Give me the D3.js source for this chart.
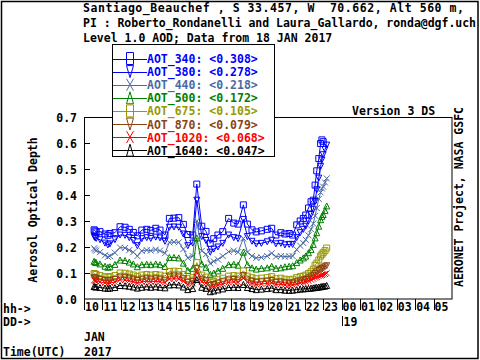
<!DOCTYPE html>
<html><head><meta charset="utf-8">
<script src="https://cdn.jsdelivr.net/npm/d3@7"></script>
<style>
body{margin:0;background:#fff}
text{font-family:"DejaVu Sans Mono",monospace;font-weight:bold;font-size:11.5px;white-space:pre}
</style>
</head><body><svg id="c" width="480" height="360"></svg>
<script>
// time of day, UTC hours on 18 JAN 2017
const times = [10.55,10.60,10.66,10.87,11.14,11.30,11.41,11.68,11.96,12.23,12.46,12.68,12.90,13.14,13.41,13.63,13.90,14.13,14.40,14.64,14.89,15.15,15.40,15.64,15.91,16.13,16.40,16.63,16.86,17.05,17.28,17.54,17.86,18.14,18.37,18.66,18.88,19.13,19.36,19.64,19.96,20.20,20.43,20.70,20.92,21.15,21.34,21.56,21.75,21.92,22.05,22.20,22.34,22.46,22.56,22.65,22.76,22.86,22.93,23.00,23.10,23.19];
const aot340 = [0.266,0.262,0.258,0.259,0.250,0.245,0.252,0.255,0.278,0.276,0.268,0.256,0.243,0.265,0.268,0.264,0.272,0.265,0.246,0.310,0.311,0.313,0.287,0.248,0.246,0.442,0.280,0.260,0.214,0.232,0.246,0.259,0.310,0.292,0.288,0.362,0.288,0.266,0.258,0.262,0.268,0.272,0.246,0.255,0.250,0.252,0.246,0.285,0.300,0.310,0.323,0.350,0.374,0.380,0.438,0.493,0.540,0.598,0.612,0.605,null,null];
const aot380 = [0.240,0.236,0.233,0.228,0.215,0.208,0.212,0.228,0.246,0.245,0.236,0.225,0.205,0.232,0.236,0.233,0.238,0.235,0.222,0.276,0.277,0.276,0.250,0.205,0.215,0.380,0.240,0.225,0.180,0.192,0.200,0.214,0.246,0.236,0.232,0.306,0.240,0.222,0.212,0.214,0.220,0.226,0.212,0.214,0.208,0.210,0.210,0.236,0.255,0.268,0.280,0.300,0.325,0.345,0.375,0.420,0.465,0.510,0.535,0.555,0.575,0.592];
const aot440 = [0.195,0.190,0.186,0.180,0.168,0.162,0.165,0.178,0.198,0.196,0.188,0.180,0.165,0.185,0.188,0.186,0.190,0.186,0.176,0.218,0.219,0.218,0.192,0.158,0.165,0.300,0.185,0.172,0.137,0.145,0.152,0.165,0.182,0.186,0.180,0.233,0.180,0.165,0.158,0.160,0.165,0.176,0.163,0.165,0.163,0.164,0.165,0.190,0.205,0.215,0.228,0.245,0.268,0.290,0.320,0.350,0.385,0.410,0.425,0.432,0.448,0.464];
const aot500 = [0.145,0.142,0.140,0.135,0.126,0.122,0.124,0.133,0.150,0.148,0.142,0.135,0.124,0.132,0.134,0.132,0.135,0.132,0.125,0.160,0.160,0.158,0.138,0.110,0.118,0.235,0.135,0.122,0.095,0.100,0.108,0.118,0.132,0.134,0.130,0.180,0.132,0.120,0.115,0.118,0.120,0.126,0.118,0.120,0.124,0.126,0.128,0.140,0.150,0.158,0.165,0.178,0.190,0.210,0.235,0.255,0.280,0.305,0.318,0.325,0.340,0.358];
const aot675 = [0.098,0.096,0.094,0.090,0.086,0.084,0.086,0.090,0.100,0.099,0.096,0.092,0.086,0.092,0.094,0.092,0.094,0.092,0.088,0.106,0.107,0.106,0.094,0.078,0.082,0.140,0.092,0.084,0.064,0.068,0.074,0.080,0.088,0.090,0.088,0.108,0.088,0.082,0.078,0.080,0.082,0.086,0.078,0.080,0.076,0.074,0.076,0.082,0.086,0.088,0.092,0.098,0.105,0.115,0.130,0.138,0.150,0.165,0.172,0.178,0.186,0.196];
const aot870 = [0.082,0.080,0.078,0.075,0.071,0.069,0.071,0.075,0.084,0.083,0.080,0.076,0.071,0.076,0.078,0.076,0.078,0.076,0.072,0.088,0.089,0.088,0.078,0.064,0.068,0.118,0.076,0.070,0.052,0.056,0.061,0.066,0.073,0.075,0.073,0.090,0.073,0.068,0.064,0.066,0.068,0.071,0.064,0.065,0.062,0.060,0.062,0.066,0.070,0.072,0.075,0.080,0.085,0.090,0.098,0.104,0.110,0.114,0.117,0.120,0.124,0.128];
const aot1020 = [0.072,0.070,0.068,0.065,0.062,0.060,0.062,0.065,0.074,0.073,0.070,0.066,0.062,0.066,0.068,0.066,0.068,0.066,0.063,0.077,0.078,0.077,0.068,0.056,0.060,0.104,0.066,0.061,0.045,0.048,0.053,0.058,0.064,0.066,0.064,0.080,0.064,0.060,0.056,0.058,0.060,0.062,0.056,0.057,0.054,0.053,0.055,0.058,0.061,0.063,0.066,0.070,0.074,0.078,0.082,0.085,0.088,0.090,0.092,0.094,0.096,0.099];
const aot1640 = [0.048,0.047,0.046,0.044,0.042,0.041,0.042,0.044,0.052,0.051,0.049,0.046,0.042,0.045,0.047,0.045,0.047,0.045,0.043,0.054,0.055,0.054,0.046,0.036,0.040,0.075,0.045,0.041,0.028,0.031,0.035,0.039,0.044,0.045,0.044,0.056,0.044,0.040,0.036,0.038,0.040,0.042,0.036,0.036,0.034,0.033,0.034,0.036,0.038,0.039,0.040,0.041,0.042,0.043,0.044,0.045,0.046,0.047,0.048,0.049,0.050,0.052];

const seriesNames = ["AOT_340","AOT_380","AOT_440","AOT_500","AOT_675","AOT_870","AOT_1020","AOT_1640"];
const seriesMeans = ["0.308","0.278","0.218","0.172","0.105","0.079","0.068","0.047"];
const seriesValues = [aot340,aot380,aot440,aot500,aot675,aot870,aot1020,aot1640];

const hourTicks = [10,11,12,13,14,15,16,17,18,19,20,21,22,23,24,25,26,27,28,29];
const hourLabels = ["10","11","12","13","14","15","16","17","18","19","20","21","22","23","00","01","02","03","04","05"];
const yTicks = [0,0.1,0.2,0.3,0.4,0.5,0.6,0.7];
const dayTick = 24, dayLabel = "19";
const titleLines = ["Santiago_Beauchef , S 33.457, W  70.662, Alt 560 m,",
                    "PI : Roberto_Rondanelli and Laura_Gallardo, ronda@dgf.uch",
                    "Level 1.0 AOD; Data from 18 JAN 2017"];

// styles
const colors = ["#0000ff","#0000ff","#4a6aa5","#008000","#999900","#8b4513","#ff0000","#000000"];
const marks = ["square","down","x","up","square","down","x","up"];

const svg = d3.select("#c");
const x = d3.scaleLinear().domain([10,30]).range([84,452]);
const y = d3.scaleLinear().domain([0,0.7]).range([299,117]);

function mpath(t,w,h){
  if(t==="square") return `M${-w},${-h}H${w}V${h}H${-w}Z`;
  if(t==="up") return `M0,${-h}L${w},${h}L${-w},${h}Z`;
  if(t==="down") return `M0,${h}L${w},${-h}L${-w},${-h}Z`;
  return `M${-w},${-h}L${w},${h}M${w},${-h}L${-w},${h}`;
}

// outer border
svg.append("rect").attr("x",1.5).attr("y",1.5).attr("width",476.5).attr("height",357).attr("fill","none").attr("stroke","#000").attr("stroke-width",1.5);

// title
svg.selectAll("text.title").data(titleLines).join("text").attr("class","title")
  .attr("x",83).attr("y",(d,i)=>12+i*15)
  .attr("textLength",(d,i)=>i===0?381:(i===1?393:null))
  .attr("lengthAdjust","spacing")
  .text(d=>d);

// frame
svg.append("rect").attr("x",84.5).attr("y",117.5).attr("width",367.5).attr("height",181.5).attr("fill","none").attr("stroke","#000");

// y axis
const ya = svg.append("g");
yTicks.forEach(v=>{
  if(v>0 && v<0.7) ya.append("line").attr("x1",84).attr("x2",90).attr("y1",Math.round(y(v))+0.5).attr("y2",Math.round(y(v))+0.5).attr("stroke","#000");
  ya.append("text").attr("x",77).attr("y",y(v)+5).attr("text-anchor","end").text(v.toFixed(1));
});
svg.append("text").attr("transform","translate(37,210) rotate(-90)").attr("text-anchor","middle").text("Aerosol Optical Depth");
svg.append("text").attr("transform","translate(463,197) rotate(-90)").attr("text-anchor","middle").text("AERONET Project, NASA GSFC");
svg.append("text").attr("x",352).attr("y",114.5).text("Version 3 DS");

// x axis
hourTicks.forEach((h,i)=>{
  svg.append("line").attr("x1",Math.round(x(h))+0.5).attr("x2",Math.round(x(h))+0.5).attr("y1",299).attr("y2",310).attr("stroke","#000");
  svg.append("text").attr("x",x(h)+1).attr("y",310.5).text(hourLabels[i]);
});
svg.append("line").attr("x1",Math.round(x(dayTick))+0.5).attr("x2",Math.round(x(dayTick))+0.5).attr("y1",316).attr("y2",326).attr("stroke","#000");
svg.append("text").attr("x",x(dayTick)+2).attr("y",326).text(dayLabel);
svg.append("text").attr("x",3).attr("y",312.5).text("hh->");
svg.append("text").attr("x",3).attr("y",326).text("DD->");
svg.append("text").attr("x",84).attr("y",340.5).text("JAN");
svg.append("text").attr("x",84).attr("y",355.5).text("2017");
svg.append("text").attr("x",3).attr("y",355.5).text("Time(UTC)");

// series
const line = d3.line().defined(d=>d.v!=null).x(d=>x(d.t)).y(d=>y(d.v));
seriesValues.forEach((vals,k)=>{
  const pts = times.map((t,i)=>({t,v:vals[i]}));
  const g = svg.append("g");
  g.append("path").datum(pts).attr("d",line).attr("fill","none").attr("stroke",colors[k]).attr("stroke-width",1);
  g.selectAll("path.m").data(pts.filter(d=>d.v!=null)).join("path").attr("class","m")
    .attr("transform",d=>`translate(${x(d.t)},${y(d.v)})`)
    .attr("d",mpath(marks[k],3,3)).attr("fill","none").attr("stroke",colors[k]).attr("stroke-width",1);
});

// legend
const lg = svg.append("g");
lg.append("rect").attr("x",112.5).attr("y",44.5).attr("width",162).attr("height",112).attr("fill","#fff").attr("stroke","#000");
seriesNames.forEach((n,k)=>{
  const yy = 58.5 + k*13.1;
  lg.append("line").attr("x1",113).attr("x2",147).attr("y1",Math.round(yy)+0.5).attr("y2",Math.round(yy)+0.5).attr("stroke",colors[k]);
  lg.append("path").attr("transform",`translate(130,${yy})`).attr("d",mpath(marks[k],3.5,6)).attr("fill","none").attr("stroke",colors[k]);
  lg.append("text").attr("x",147).attr("y",yy+4.5).attr("fill",colors[k]).text(`${n}: <${seriesMeans[k]}>`);
});
</script></body></html>
